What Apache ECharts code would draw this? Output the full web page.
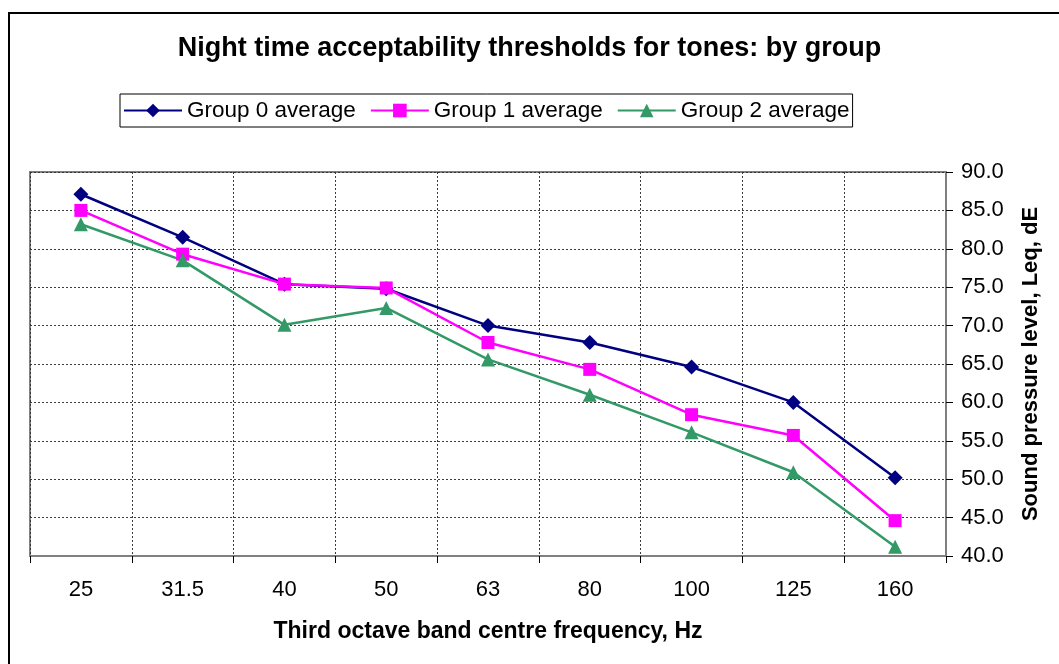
<!DOCTYPE html>
<html>
<head>
<meta charset="utf-8">
<script src="https://cdn.jsdelivr.net/npm/echarts@6/dist/echarts.min.js"></script>
<style>
html,body{margin:0;padding:0;background:#fff;}
#c{width:1059px;height:664px;}
</style>
</head>
<body>
<div id="c"></div>
<script>
const categories = ['25', '31.5', '40', '50', '63', '80', '100', '125', '160'];
const group0 = [87.1, 81.5, 75.4, 74.8, 70.0, 67.8, 64.6, 60.0, 50.2];
const group1 = [85.0, 79.3, 75.4, 74.9, 67.8, 64.3, 58.4, 55.7, 44.6];
const group2 = [83.2, 78.5, 70.1, 72.3, 65.6, 61.0, 56.1, 50.9, 41.2];
const seriesNames = ['Group 0 average', 'Group 1 average', 'Group 2 average'];
const yTicks = { min: 40, max: 90, interval: 5 };

const chart = echarts.init(document.getElementById('c'), null, { renderer: 'canvas' });
const FONT = 'Arial, "Liberation Sans", sans-serif';
const grid = 'rgba(50,50,50,0.95)';

function mk(name, data, color, symbol, size) {
  return {
    name: name, type: 'line', data: data,
    symbol: symbol, symbolSize: size,
    lineStyle: { color: color, width: 2.5 },
    itemStyle: { color: color },
    emphasis: { disabled: true },
    animation: false
  };
}

chart.setOption({
  animation: false,
  backgroundColor: '#fff',
  title: {
    text: 'Night time acceptability thresholds for tones: by group',
    left: 'center', top: 35, padding: 0,
    textStyle: { fontFamily: FONT, fontSize: 27, fontWeight: 'bold', color: '#000' }
  },
  legend: {
    left: 120, top: 94,
    padding: [5, 3, 5, 3],
    borderColor: '#000', borderWidth: 1,
    itemWidth: 58, itemHeight: 17, itemGap: 14,
    textStyle: { fontFamily: FONT, fontSize: 22.5, color: '#000', padding: [2, 0, 0, 0] },
    data: seriesNames
  },
  grid: { left: 30, right: 113, top: 172, bottom: 108, show: true, borderColor: '#808080', borderWidth: 2, backgroundColor: '#fff' },
  xAxis: {
    type: 'category', data: categories, boundaryGap: true,
    name: 'Third octave band centre frequency, Hz',
    nameLocation: 'middle', nameGap: 64,
    nameTextStyle: { fontFamily: FONT, fontSize: 23, fontWeight: 'bold', color: '#000' },
    axisLine: { lineStyle: { color: '#808080', width: 2 } },
    axisTick: { show: true, alignWithLabel: false, length: 7, lineStyle: { color: '#000', width: 1 } },
    axisLabel: { fontFamily: FONT, fontSize: 22, color: '#000', margin: 23 },
    splitLine: { show: true, lineStyle: { color: grid, type: [2, 2], width: 1 } }
  },
  yAxis: {
    type: 'value', position: 'right',
    min: yTicks.min, max: yTicks.max, interval: yTicks.interval,
    name: 'Sound pressure level, Leq, dE',
    nameLocation: 'middle', nameGap: 74, nameRotate: 90,
    nameTextStyle: { fontFamily: FONT, fontSize: 22, fontWeight: 'bold', color: '#000' },
    axisLine: { show: true, lineStyle: { color: '#808080', width: 2 } },
    axisTick: { show: true, length: 7, lineStyle: { color: '#000', width: 1 } },
    axisLabel: { fontFamily: FONT, fontSize: 22, color: '#000', margin: 15, formatter: v => v.toFixed(1) },
    splitLine: { show: true, lineStyle: { color: grid, type: [2, 2], width: 1 } }
  },
  graphic: [{
    type: 'rect', silent: true, z: 100,
    shape: { x: 9, y: 13, width: 1100, height: 700 },
    style: { fill: null, stroke: '#000', lineWidth: 2 }
  }],
  series: [
    mk(seriesNames[0], group0, '#000080', 'diamond', 15),
    mk(seriesNames[1], group1, '#FF00FF', 'rect', 13),
    mk(seriesNames[2], group2, '#339966', 'triangle', 14)
  ]
});
</script>
</body>
</html>
